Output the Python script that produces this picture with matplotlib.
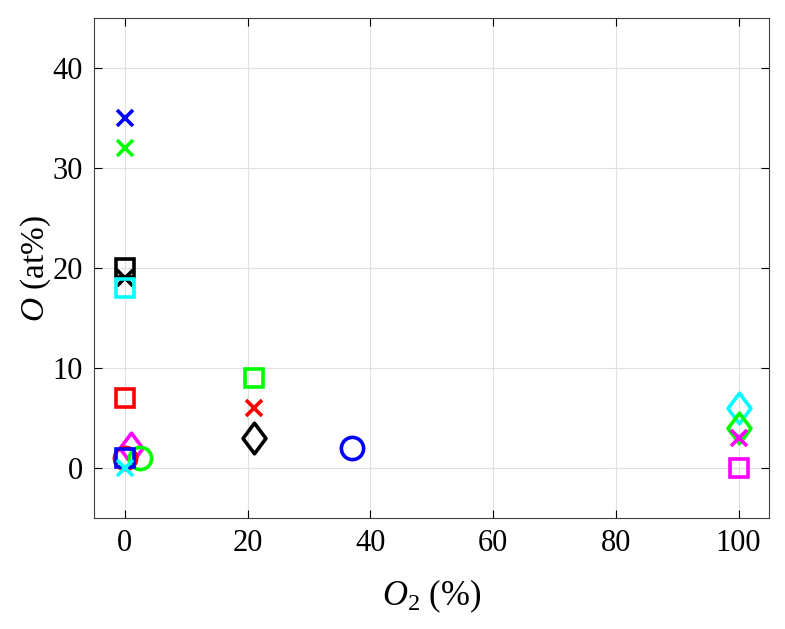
import matplotlib.pyplot as plt
from matplotlib.path import Path

plt.rcParams['font.family'] = ['Liberation Serif', 'DejaVu Serif']
plt.rcParams['mathtext.fontset'] = 'custom'
plt.rcParams['mathtext.it'] = 'Liberation Serif:italic'
plt.rcParams['mathtext.rm'] = 'Liberation Serif'

# (x = O2 %, y = O at%, marker, colour)
o2 = [0, 0, 0, 0, 0, 0, 1, 0, 2.5, 0, 0, 21, 21, 21, 37, 100, 100, 100, 100]
o_at = [35, 32, 20, 19, 18, 7, 2, 1, 1, 1, 0, 9, 6, 3, 2, 6, 4, 3, 0]
markers = ['x', 'x', 's', 'x', 's', 's', 'D', 'o', 'o', 's', 'x',
           's', 'x', 'D', 'o', 'D', 'D', 'x', 's']
colors = ['#0000ff', '#00ff00', 'k', 'k', '#00ffff', '#ff0000', '#ff00ff',
          '#ff0000', '#00ff00', '#0000ff', '#00ffff',
          '#00ff00', '#ff0000', 'k', '#0000ff',
          '#00ffff', '#00ff00', '#ff00ff', '#ff00ff']

# matlab style diamond, a bit taller than wide
diamond = Path([(0, 1), (0.75, 0), (0, -1), (-0.75, 0), (0, 1)],
               [Path.MOVETO, Path.LINETO, Path.LINETO, Path.LINETO, Path.CLOSEPOLY])

fig = plt.figure(figsize=(7.85, 6.29), dpi=100)
ax = fig.add_axes([0.12, 0.176, 0.86, 0.795])

for x, y, m, c in zip(o2, o_at, markers, colors):
    size = {'x': 12, 's': 13, 'D': 22, 'o': 16}[m]
    mk = diamond if m == 'D' else m
    ax.plot(x, y, linestyle='none', marker=mk, markersize=size,
            markerfacecolor='none', markeredgecolor=c, markeredgewidth=2.6)

ax.set_xlim(-5, 105)
ax.set_ylim(-5, 45)
ax.set_xticks([0, 20, 40, 60, 80, 100])
ax.set_yticks([0, 10, 20, 30, 40])
ax.grid(True, color='#e0e0e0', linewidth=0.8)
ax.set_axisbelow(True)
ax.tick_params(labelsize=22, direction='in', length=6, top=True, right=True, pad=8)
for s in ax.spines.values():
    s.set_color('#404040')
ax.set_xlabel(r'$\mathit{O}_2$ (%)', fontsize=25, labelpad=14)
ax.set_ylabel(r'$\mathit{O}$ (at%)', fontsize=24, labelpad=0)

fig.savefig('out.png', dpi=100)
